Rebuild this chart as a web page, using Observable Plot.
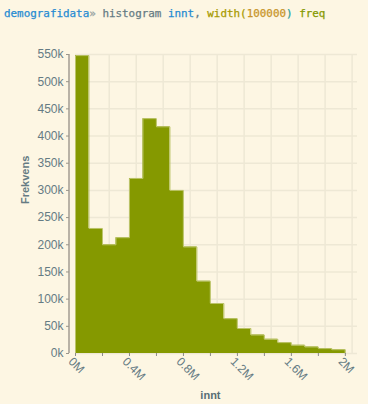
<!DOCTYPE html>
<html>
<head>
<meta charset="utf-8">
<script src="https://cdn.jsdelivr.net/npm/d3@7"></script>
<script src="https://cdn.jsdelivr.net/npm/@observablehq/plot@0.6"></script>
<style>
  html, body { margin: 0; padding: 0; background: #fdf6e3; }
  #title { height: 30px; line-height: 27px; padding-left: 4px; font-family: "DejaVu Sans Mono", monospace; font-size: 10.9px; white-space: pre; color: #657b83; -webkit-text-stroke: 0.25px currentColor; }
  #chart svg { display: block; }
</style>
</head>
<body>
<div id="title"><span style="color:#268bd2">demografidata</span><span style="color:#93a1a1">»</span> <span style="color:#657b83">histogram</span> <span style="color:#268bd2">innt</span><span style="color:#657b83">,</span> <span style="color:#a89a00">width(</span><span style="color:#c8952a">100000</span><span style="color:#2aa198">)</span> <span style="color:#859900">freq</span></div>
<div id="chart"></div>
<script>
// bin edges (innt) and frequencies
const binStart = [0, 100000, 200000, 300000, 400000, 500000, 600000, 700000, 800000, 900000,
  1000000, 1100000, 1200000, 1300000, 1400000, 1500000, 1600000, 1700000, 1800000, 1900000];
const binEnd = [100000, 200000, 300000, 400000, 500000, 600000, 700000, 800000, 900000, 1000000,
  1100000, 1200000, 1300000, 1400000, 1500000, 1600000, 1700000, 1800000, 1900000, 2000000];
const freq = [548000, 230000, 200000, 213000, 322000, 432000, 417000, 300000, 196000, 133000,
  92000, 64000, 46000, 34000, 26000, 20000, 15000, 12000, 9000, 7000];

const xTicks = [0, 200000, 400000, 600000, 800000, 1000000, 1200000, 1400000, 1600000, 1800000, 2000000];
const xLabelTicks = [0, 400000, 800000, 1200000, 1600000, 2000000];
const yTicks = [0, 50000, 100000, 150000, 200000, 250000, 300000, 350000, 400000, 450000, 500000, 550000];
const xGrid = [50000, 250000, 450000, 650000, 850000, 1050000, 1250000, 1450000, 1650000, 1850000, 2050000];

const bins = binStart.map((s, i) => ({x1: s, x2: binEnd[i], y: freq[i]}));
// step profile of the histogram
const outline = [{x: binStart[0], y: 0}]
  .concat(bins.map(b => ({x: b.x1, y: b.y})))
  .concat([{x: binEnd[binEnd.length - 1], y: 0}]);

const chart = Plot.plot({
  width: 368,
  height: 374,
  marginTop: 24,
  marginBottom: 51,
  marginLeft: 75,
  marginRight: 11,
  style: {background: "#fdf6e3", fontFamily: "'Liberation Sans', Arial, sans-serif", fontSize: "12px", color: "#657b83"},
  x: {domain: [0, 2090000]},
  y: {domain: [0, 550000]},
  marks: [
    Plot.gridY(yTicks, {stroke: "#eee8d5", strokeOpacity: 1, strokeWidth: 1.5}),
    Plot.ruleX(xGrid, {stroke: "#eee8d5", strokeOpacity: 1, strokeWidth: 1.5}),
    Plot.areaY(outline, {x: "x", y: "y", curve: "step-after", fill: "#859900", fillOpacity: 1}),
    Plot.line(outline, {x: "x", y: "y", curve: "step-after", stroke: "#bcc46a", strokeWidth: 1}),
    Plot.ruleX([0], {dx: -6.5, stroke: "#b9b2a6", strokeWidth: 2}),
    Plot.axisY({ticks: yTicks, tickSize: 3, dx: -6, tickPadding: 3, tickFormat: d => d / 1000 + "k", label: null, stroke: "#9a968c", fill: "#657b83"}),
    Plot.axisX({ticks: xTicks, tickSize: 3, tickFormat: () => "", label: null, stroke: "#8a8a8a"}),
    Plot.axisX({ticks: xLabelTicks, tickSize: 3, tickRotate: 45, tickPadding: 3, dx: -5, label: null, stroke: "none", fill: "#657b83",
      tickFormat: d => (d / 1e6) + "M"}),
    Plot.text(["Frekvens"], {frameAnchor: "left", rotate: -90, dx: -50, fontWeight: "bold", fontSize: 11, fill: "#657b83"}),
    Plot.text(["innt"], {x: 1000000, y: 0, dy: 42, fontWeight: "bold", fontSize: 11, fill: "#586e75"})
  ]
});
document.getElementById("chart").appendChild(chart);
</script>
</body>
</html>
